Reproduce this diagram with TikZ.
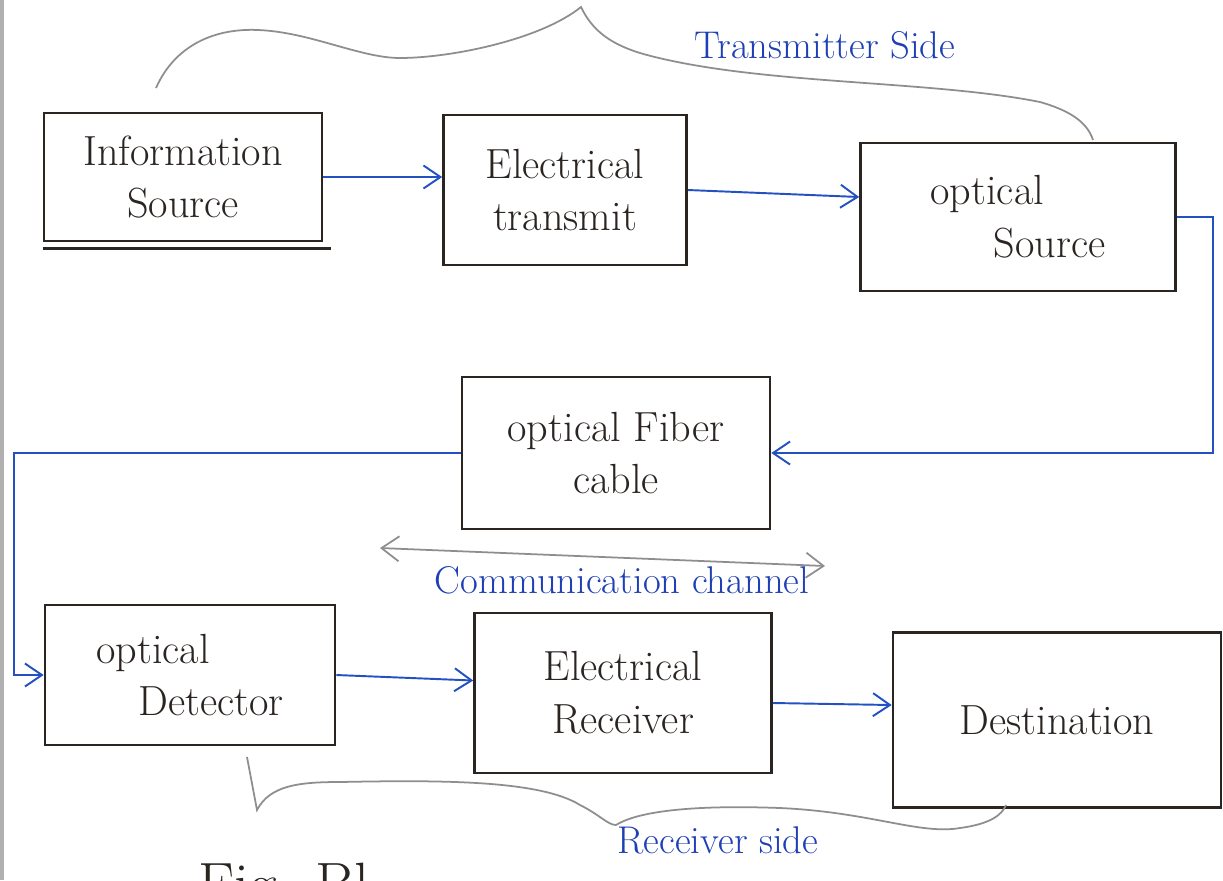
\documentclass[tikz,border=0pt]{standalone}
\usetikzlibrary{arrows.meta}
\definecolor{ink}{HTML}{2B2522}
\definecolor{pen}{HTML}{2451C2}
\definecolor{penText}{HTML}{1E3FB5}
\definecolor{pencil}{HTML}{8E8E8E}
\tikzset{
  blockbox/.style={draw=ink, line width=1.5pt, text=ink, align=center,
    font=\fontsize{24}{30}\selectfont, inner sep=0pt},
  flow/.style={draw=pen, line width=1.1pt,
    -{Straight Barb[length=3.4mm,width=4.6mm,line width=1.1pt]}},
  brace/.style={draw=pencil, line width=1pt},
  sidelabel/.style={text=penText, font=\fontsize{22}{26}\selectfont, inner sep=0pt},
}
\begin{document}
\begin{tikzpicture}[x=0.02cm, y=-0.02cm]
\useasboundingbox (0,0) rectangle (1223,880);
\clip (0,0) rectangle (1223,880);
\fill[white] (0,0) rectangle (1223,880);
% scanned page edge
\draw[pencil!70, line width=2pt] (2,0) -- (2,880);

% blocks
\node[blockbox, minimum width=278*0.02cm, minimum height=128*0.02cm] (info) at (183,177) {Information\\Source};
\node[blockbox, minimum width=243*0.02cm, minimum height=150*0.02cm] (elec) at (565,190) {Electrical\\transmit};
\node[blockbox, minimum width=315*0.02cm, minimum height=148*0.02cm, align=left] (src) at (1018,217) {optical\\\hspace{1.5em}Source};
\node[blockbox, minimum width=308*0.02cm, minimum height=152*0.02cm] (fiber) at (616,453) {optical Fiber\\cable};
\node[blockbox, minimum width=290*0.02cm, minimum height=140*0.02cm, align=left] (det) at (190,675) {optical\\\hspace{1em}Detector};
\node[blockbox, minimum width=297*0.02cm, minimum height=160*0.02cm] (rcv) at (623,693) {Electrical\\Receiver};
\node[blockbox, minimum width=328*0.02cm, minimum height=175*0.02cm] (dest) at (1057,720) {Destination};

% doubled base line under the first block
\draw[ink, line width=1.5pt] ([yshift=-0.12cm]info.south west) -- ([xshift=0.16cm, yshift=-0.12cm]info.south east);

% signal path
\coordinate (rb) at (1213,0);
\coordinate (lb) at (14,0);
\draw[flow] (info.east) -- (info.east -| elec.west);
\draw[flow] (elec.east) -- ([yshift=0.4cm]src.west);
\draw[flow] (src.east) -- (src.east -| rb) |- (fiber.east);
\draw[flow] (fiber.west) -- (fiber.west -| lb) |- (det.west);
\draw[flow] (det.east) -- ([yshift=0.25cm]rcv.west);
\draw[flow] ([yshift=-0.2cm]rcv.east) -- ([yshift=0.3cm]dest.west);

% communication channel span
\coordinate (chL) at (380,548);
\coordinate (chR) at (825,566);
\draw[brace, {Straight Barb[length=3.5mm,width=5mm]}-{Straight Barb[length=3.5mm,width=5mm]}] (chL) -- (chR);
\node[sidelabel] (chlabel) at (622,580) {Communication channel};

% transmitter side brace
\draw[brace] (156,88) .. controls (175,45) and (215,28) .. (258,30)
  .. controls (310,32) and (360,58) .. (400,58)
  .. controls (450,58) and (540,40) .. (581,7)
  .. controls (592,30) and (610,45) .. (647,55)
  .. controls (760,85) and (930,80) .. (1040,102)
  .. controls (1075,112) and (1088,125) .. (1093,140);
\node[sidelabel] (txlabel) at (825,45) {Transmitter Side};

% receiver side brace
\draw[brace] (247,757) -- (257,810)
  .. controls (270,785) and (300,782) .. (340,782)
  .. controls (440,780) and (540,780) .. (580,805)
  .. controls (600,815) and (608,825) .. (616,825)
  .. controls (640,810) and (700,805) .. (780,808)
  .. controls (870,812) and (920,835) .. (960,828)
  .. controls (990,824) and (1002,815) .. (1006,805);
\node[sidelabel] (rxlabel) at (718,840) {Receiver side};

% caption, cut by the page bottom
\node[anchor=base west, text=ink, font=\fontsize{34}{40}\selectfont, inner sep=0pt] (caption) at (198,904) {Fig. Bl};
\end{tikzpicture}
\end{document}
